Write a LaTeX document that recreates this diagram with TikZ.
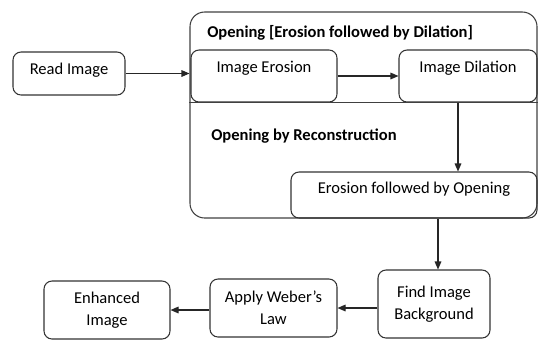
\documentclass[tikz,border=0pt]{standalone}
\usepackage{fontspec}
\setmainfont{Carlito}
\usepackage{tikz}
\usetikzlibrary{positioning, arrows.meta, calc}

\begin{document}
\begin{tikzpicture}[
    x=0.75pt, y=-0.75pt,
    box/.style={rectangle, rounded corners=6pt, draw=black!80, line width=0.8pt, align=center, inner sep=2pt},
    group/.style={rectangle, rounded corners=11pt, draw=black!75, line width=0.8pt},
    heading/.style={font=\fontsize{12.4pt}{16.5pt}\selectfont\bfseries, anchor=west, inner sep=0pt},
    arr/.style={-{Triangle[length=6pt, width=5pt]}, line width=0.8pt, draw=black!85},
    every node/.style={font=\fontsize{12.4pt}{16.5pt}\selectfont}
]
\useasboundingbox (0,0) rectangle (539,340);

% Opening block
\node[group, minimum width=260.25pt, minimum height=154.5pt] (opening) at (363.5,115) {};
\node[heading] (titleOpen) at (207,33) {Opening [Erosion followed by Dilation]};
\node[heading] (titleRecon) at (211,136) {Opening by Reconstruction};

% Steps
\node[box, minimum width=84pt, minimum height=32.25pt, text depth=7pt] (read) at (69,73.5) {Read Image};
\node[box, minimum width=109.5pt, minimum height=39pt, text depth=14.5pt] (ero) at (264,76) {Image Erosion};
\node[box, minimum width=103.5pt, minimum height=39pt, text depth=14.5pt] (dil) at (468,76) {Image Dilation};
\node[box, minimum width=184.5pt, minimum height=34.5pt, text depth=11.5pt] (efo) at (414,195) {Erosion followed by Opening};
\node[box, minimum width=84pt, minimum height=51pt] (find) at (434,304) {Find Image\\Background};
\node[box, minimum width=95.25pt, minimum height=43.5pt] (weber) at (273.5,308) {Apply Weber's\\Law};
\node[box, minimum width=94.5pt, minimum height=43.5pt] (enh) at (107,310) {Enhanced\\Image};

% divider under the first stage
\draw[draw=black!75, line width=0.8pt] (opening.west |- ero.south) -- (opening.east |- ero.south);

% Arrows
\draw[arr] (read.east) -- (read.east -| opening.west);
\draw[arr] (ero.east) -- (dil.west);
\draw[arr] ([xshift=-7.5pt]dil.south) -- ([xshift=-7.5pt]dil.south |- efo.north);
\draw[arr] ([xshift=3pt]find.north |- efo.south) -- ([xshift=3pt]find.north);
\draw[arr] (find.west |- weber.east) -- (weber.east);
\draw[arr] (weber.west |- enh.east) -- (enh.east);
\end{tikzpicture}
\end{document}
